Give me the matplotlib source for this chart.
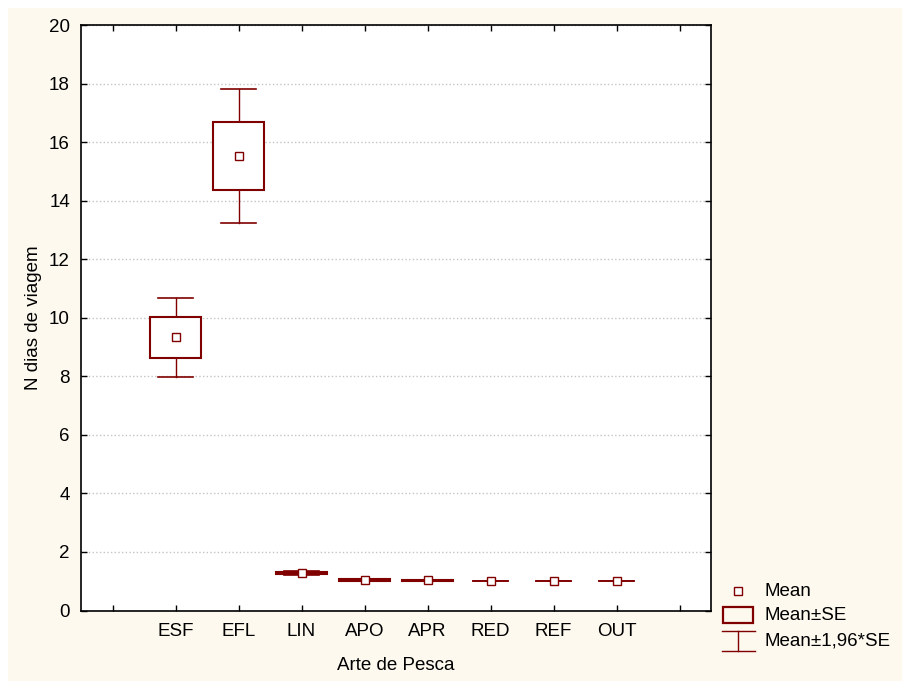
import numpy as np
import matplotlib.pyplot as plt
from matplotlib.patches import Rectangle
from matplotlib.lines import Line2D

plt.rcParams['font.family'] = ['Liberation Sans', 'DejaVu Sans']

# mean and standard error of trip length per fishing gear
artes = ['ESF', 'EFL', 'LIN', 'APO', 'APR', 'RED', 'REF', 'OUT']
media = [9.33, 15.52, 1.28, 1.04, 1.03, 1.0, 1.0, 1.0]
erro = [0.69, 1.17, 0.04, 0.02, 0.008, 0.0, 0.0, 0.0]

cor = '#800000'
fundo = '#fdf9ef'
fs = 13.5

fig = plt.figure(figsize=(9.02, 6.81), dpi=100, facecolor='white')
fig.patches.append(Rectangle((8 / 902, 0), 1, 673 / 681, transform=fig.transFigure,
                             facecolor=fundo, edgecolor='none', zorder=-10))

ax = fig.add_axes([81 / 902, 70.5 / 681, 630 / 902, 585.5 / 681])
ax.set_facecolor('white')

x = np.arange(len(artes))
for xi, m, se in zip(x, media, erro):
    lo, hi = m - 1.96 * se, m + 1.96 * se
    ax.plot([xi, xi], [lo, m - se], color=cor, lw=1.0, zorder=3)
    ax.plot([xi, xi], [m + se, hi], color=cor, lw=1.0, zorder=3)
    ax.plot([xi - 0.28, xi + 0.28], [lo, lo], color=cor, lw=1.2, zorder=3)
    ax.plot([xi - 0.28, xi + 0.28], [hi, hi], color=cor, lw=1.2, zorder=3)
    if se > 0:
        ax.add_patch(Rectangle((xi - 0.4, m - se), 0.8, 2 * se, facecolor='white',
                               edgecolor=cor, lw=1.5, zorder=4))
ax.plot(x, media, 's', ms=5.5, mfc='white', mec=cor, mew=1.0, zorder=5)

ax.set_xlim(-1.5, 8.5)
ax.set_ylim(0, 20)
ax.set_xticks(np.arange(-1, 9))
ax.set_xticklabels([''] + artes + [''])
ax.set_yticks(np.arange(0, 21, 2))
ax.tick_params(direction='in', length=4, width=1, top=True, right=True,
               labelsize=fs, colors='black')
ax.tick_params(axis='y', pad=8)
ax.tick_params(axis='x', pad=9)
ax.grid(axis='y', ls=':', color='#c4c4c4', lw=1)
ax.set_axisbelow(True)
for s in ax.spines.values():
    s.set_linewidth(1.2)

ax.set_ylabel('N dias de viagem', fontsize=fs, labelpad=5)
ax.set_xlabel('Arte de Pesca', fontsize=fs, labelpad=12)

# legend drawn in pixel coordinates of the figure
def px(xp, yp):
    return xp / 902, 1 - yp / 681

tf = fig.transFigure
fig.add_artist(Line2D([px(738, 591)[0]], [px(738, 591)[1]], marker='s', ms=5.5,
                      mfc='white', mec=cor, mew=1.0, transform=tf))
x0, y0 = px(723, 623)
fig.add_artist(Rectangle((x0, y0), 30 / 902, 16 / 681, facecolor='none',
                         edgecolor=cor, lw=1.6, transform=tf))
for (xa, ya), (xb, yb) in [((722, 631), (755, 631)), ((722, 651), (755, 651)),
                           ((738, 631), (738, 651))]:
    fig.add_artist(Line2D([px(xa, ya)[0], px(xb, yb)[0]], [px(xa, ya)[1], px(xb, yb)[1]],
                          color=cor, lw=1.0, transform=tf))
for texto, yp in [('Mean', 592), ('Mean±SE', 616), ('Mean±1,96*SE', 641)]:
    fig.text(765 / 902, 1 - yp / 681, texto, fontsize=fs, va='center', ha='left')

fig.savefig('out.png', dpi=100, facecolor=fig.get_facecolor())
